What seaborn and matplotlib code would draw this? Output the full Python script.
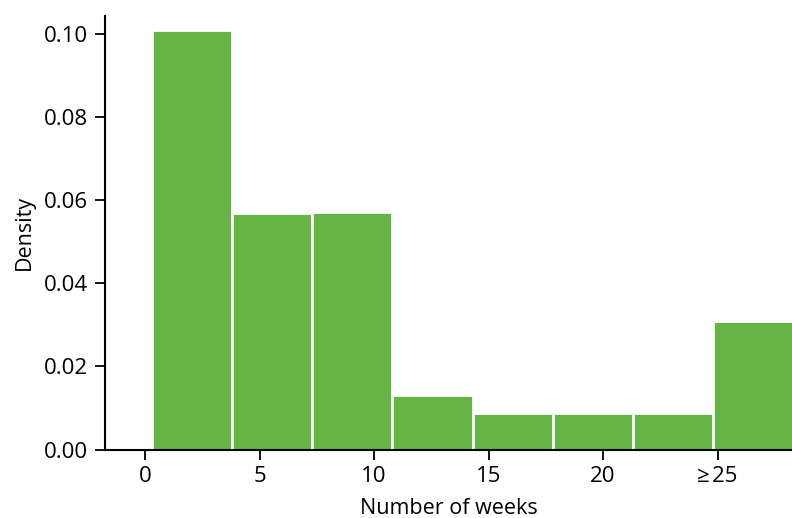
import numpy as np
import seaborn as sns
import matplotlib.pyplot as plt

sns.set_style("ticks")
plt.rcParams['font.family'] = ['Open Sans', 'DejaVu Sans']
plt.rcParams['text.color'] = 'black'
plt.rcParams['axes.labelcolor'] = 'black'

# bin edges in weeks (last bin is the open-ended >=25 group)
bin_edges = [0.3, 3.8, 7.3, 10.8, 14.3, 17.8, 21.3, 24.8, 28.3]
density = [0.1010, 0.0569, 0.0572, 0.0131, 0.0088, 0.0088, 0.0088, 0.0309]
tick_pos = [0, 5, 10, 15, 20, 25]
tick_labels = ['0', '5', '10', '15', '20', '\u2265\u200a25']

centers = [(a + b) / 2 for a, b in zip(bin_edges[:-1], bin_edges[1:])]

fig = plt.figure(figsize=(7.92, 5.18), dpi=100)
ax = fig.add_axes([0.1326, 0.1322, 0.8674, 0.8369])

sns.histplot(x=centers, weights=density, bins=bin_edges, ax=ax,
             color='#66b445', edgecolor='white', linewidth=2, alpha=1)

ax.set_xlim(-1.75, 28.25)
ax.set_ylim(0, 0.1043)
ax.set_xticks(tick_pos)
ax.set_xticklabels(tick_labels)
ax.set_yticks([0, 0.02, 0.04, 0.06, 0.08, 0.10])
ax.set_yticklabels(['0.00', '0.02', '0.04', '0.06', '0.08', '0.10'])
ax.tick_params(labelsize=16, length=7, width=1.3, colors='black', pad=5)
ax.set_xlabel('Number of weeks', fontsize=15.5, labelpad=8)
ax.set_ylabel('Density', fontsize=15.5, labelpad=7)
for s in ['left', 'bottom']:
    ax.spines[s].set_linewidth(1.5)
    ax.spines[s].set_color('black')
sns.despine(ax=ax)

fig.savefig('out.png', dpi=100)
